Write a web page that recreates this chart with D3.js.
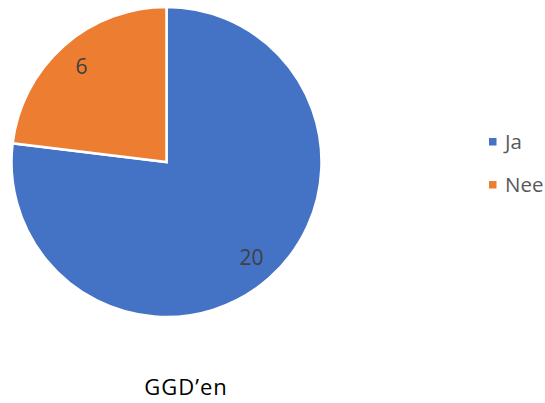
<!DOCTYPE html>
<html>
<head>
<meta charset="utf-8">
<script src="https://cdn.jsdelivr.net/npm/d3@7"></script>
<style>
  body { margin: 0; background: #fff; }
  text { font-family: "Open Sans", sans-serif; }
</style>
</head>
<body>
<script>
var categories = ['Ja', 'Nee'];
var values = [20, 6];
var colors = ['#4472C4', '#ED7D31'];
var title = 'GGD\u2019en';

var WIDTH = 545, HEIGHT = 403;
var CX = 166.5, CY = 162, R = 155;

var svg = d3.select('body').append('svg')
  .attr('width', WIDTH)
  .attr('height', HEIGHT);

var data = categories.map(function (c, i) {
  return { name: c, value: values[i] };
});

var color = d3.scaleOrdinal().domain(categories).range(colors);

var pie = d3.pie()
  .sort(null)
  .value(function (d) { return d.value; });

var arc = d3.arc().innerRadius(0).outerRadius(R);
var labelArc = d3.arc().innerRadius(128).outerRadius(128);

var g = svg.append('g')
  .attr('transform', 'translate(' + CX + ',' + CY + ')');

var slices = g.selectAll('g.slice')
  .data(pie(data))
  .enter().append('g')
  .attr('class', 'slice');

slices.append('path')
  .attr('d', arc)
  .style('fill', function (d) { return color(d.data.name); })
  .style('stroke', '#fff')
  .style('stroke-width', 2.5)
  .style('stroke-linejoin', 'miter');

slices.append('text')
  .attr('transform', function (d) {
    return 'translate(' + labelArc.centroid(d) + ')';
  })
  .attr('text-anchor', 'middle')
  .attr('dy', '0.36em')
  .style('font-size', '21px')
  .style('fill', '#404040')
  .text(function (d) { return d.data.value; });

// legend
var legend = svg.selectAll('g.legend')
  .data(categories)
  .enter().append('g')
  .attr('class', 'legend')
  .attr('transform', function (d, i) {
    return 'translate(489,' + (142 + i * 43) + ')';
  });

legend.append('rect')
  .attr('x', 0)
  .attr('y', -4)
  .attr('width', 7.5)
  .attr('height', 7.5)
  .style('fill', function (d) { return color(d); });

legend.append('text')
  .attr('x', 16)
  .attr('dy', '0.36em')
  .style('font-size', '20.5px')
  .style('fill', '#595959')
  .text(function (d) { return d; });

svg.append('text')
  .attr('x', 186)
  .attr('y', 395)
  .attr('text-anchor', 'middle')
  .style('font-size', '22px')
  .style('letter-spacing', '1px')
  .style('fill', '#000')
  .text(title);
</script>
</body>
</html>
